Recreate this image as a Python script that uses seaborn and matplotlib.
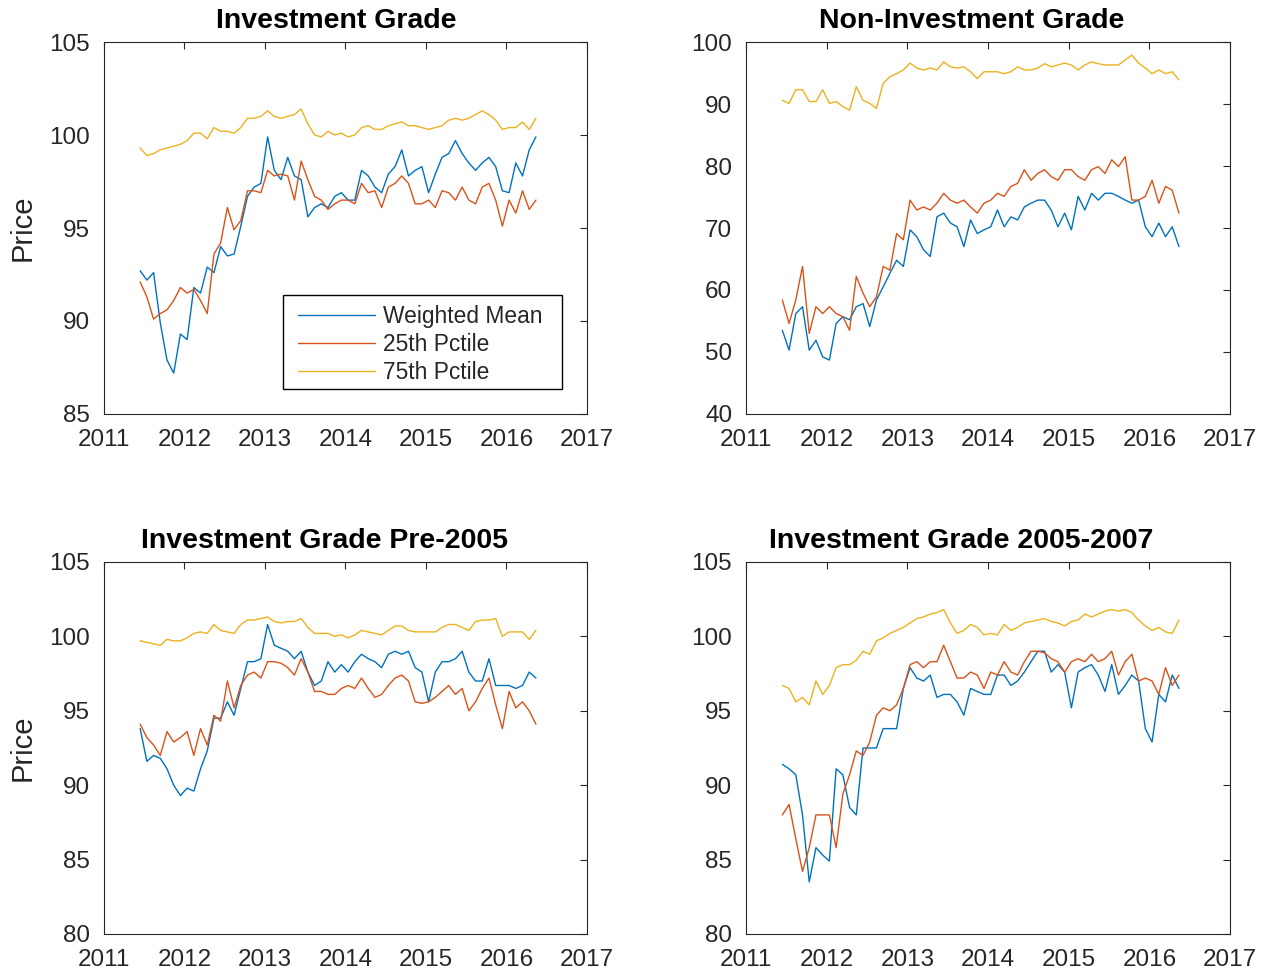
import numpy as np
import pandas as pd
import matplotlib
matplotlib.use("Agg")
import matplotlib.pyplot as plt
from matplotlib.patches import Rectangle
import seaborn as sns

n_obs = 60
t = 2011.45 + np.arange(n_obs) / 12.0

ig_mean = [92.7, 92.2, 92.6, 89.9, 87.9, 87.2, 89.3, 89.0, 91.8, 91.5,
           92.9, 92.6, 94.0, 93.5, 93.6, 95.1, 96.7, 97.2, 97.4, 99.9,
           98.1, 97.6, 98.8, 97.8, 97.6, 95.6, 96.1, 96.3, 96.1, 96.7,
           96.9, 96.5, 96.5, 98.1, 97.8, 97.2, 96.9, 97.9, 98.3, 99.2,
           97.8, 98.1, 98.3, 96.9, 97.9, 98.8, 99.0, 99.7, 99.0, 98.5,
           98.1, 98.5, 98.8, 98.3, 97.0, 96.9, 98.5, 97.8, 99.2, 99.9]
ig_p25 = [92.1, 91.3, 90.1, 90.4, 90.6, 91.1, 91.8, 91.5, 91.7, 91.1,
          90.4, 93.6, 94.2, 96.1, 94.9, 95.4, 97.0, 97.0, 96.9, 98.1,
          97.8, 97.9, 97.8, 96.5, 98.6, 97.6, 96.7, 96.5, 96.0, 96.3,
          96.5, 96.5, 96.3, 97.4, 96.9, 97.0, 96.1, 97.2, 97.4, 97.8,
          97.4, 96.3, 96.3, 96.5, 96.1, 97.0, 96.9, 96.5, 97.2, 96.5,
          96.3, 97.2, 97.4, 96.5, 95.1, 96.5, 95.8, 97.0, 96.0, 96.5]
ig_p75 = [99.3, 98.9, 99.0, 99.2, 99.3, 99.4, 99.5, 99.7, 100.1, 100.1,
          99.8, 100.4, 100.2, 100.2, 100.1, 100.4, 100.9, 100.9, 101.0, 101.3,
          101.0, 100.9, 101.0, 101.1, 101.4, 100.6, 100.0, 99.9, 100.2, 100.0,
          100.1, 99.9, 100.0, 100.4, 100.5, 100.3, 100.3, 100.5, 100.6, 100.7,
          100.5, 100.5, 100.4, 100.3, 100.4, 100.5, 100.8, 100.9, 100.8, 100.9,
          101.1, 101.3, 101.1, 100.8, 100.3, 100.4, 100.4, 100.7, 100.3, 100.9]

hy_mean = [53.5, 50.3, 56.2, 57.3, 50.3, 51.9, 49.2, 48.7, 54.6, 55.7,
           55.2, 57.3, 57.8, 54.1, 58.4, 60.5, 62.7, 64.8, 63.8, 69.7,
           68.6, 66.5, 65.4, 71.8, 72.4, 70.8, 70.2, 67.0, 71.3, 69.1,
           69.7, 70.2, 72.9, 70.2, 71.8, 71.3, 73.4, 74.0, 74.5, 74.5,
           72.9, 70.2, 72.4, 69.7, 75.1, 72.9, 75.6, 74.5, 75.6, 75.6,
           75.1, 74.5, 74.0, 74.5, 70.2, 68.6, 70.8, 68.6, 70.2, 67.0]
hy_p25 = [58.4, 54.6, 58.4, 63.8, 53.0, 57.3, 56.2, 57.3, 56.2, 55.7,
          53.5, 62.2, 59.5, 57.3, 58.9, 63.8, 63.2, 69.1, 68.1, 74.5,
          72.9, 73.4, 72.9, 74.0, 75.6, 74.5, 74.0, 74.5, 73.4, 72.4,
          74.0, 74.5, 75.6, 75.1, 76.7, 77.2, 79.4, 77.7, 78.8, 79.4,
          78.3, 77.7, 79.4, 79.4, 78.3, 77.7, 79.4, 79.9, 78.8, 81.0,
          79.9, 81.5, 74.5, 74.5, 75.1, 77.7, 74.0, 76.7, 76.1, 72.4]
hy_p75 = [90.6, 90.1, 92.3, 92.3, 90.4, 90.4, 92.3, 90.1, 90.4, 89.6,
          89.0, 92.8, 90.6, 90.1, 89.3, 93.3, 94.4, 94.9, 95.5, 96.6,
          95.8, 95.5, 95.8, 95.5, 96.8, 96.0, 95.8, 96.0, 95.2, 94.1,
          95.2, 95.2, 95.2, 94.9, 95.2, 96.0, 95.5, 95.5, 95.8, 96.5,
          96.0, 96.3, 96.6, 96.3, 95.5, 96.3, 96.8, 96.5, 96.3, 96.3,
          96.3, 97.1, 97.9, 96.6, 95.8, 94.9, 95.5, 94.9, 95.2, 93.9]

pre_mean = [93.8, 91.6, 92.0, 91.8, 91.1, 90.0, 89.3, 89.8, 89.6, 91.1,
            92.3, 94.5, 94.5, 95.6, 94.7, 96.5, 98.3, 98.3, 98.5, 100.8,
            99.4, 99.2, 99.0, 98.5, 99.0, 97.6, 96.7, 97.0, 98.3, 97.6,
            98.1, 97.6, 98.3, 98.8, 98.5, 98.3, 97.9, 98.8, 99.0, 98.8,
            99.0, 97.9, 97.6, 95.6, 97.6, 98.3, 98.3, 98.5, 99.0, 97.6,
            97.0, 97.0, 98.5, 96.7, 96.7, 96.7, 96.5, 96.7, 97.6, 97.2]
pre_p25 = [94.1, 93.2, 92.7, 92.0, 93.6, 92.9, 93.2, 93.6, 92.0, 93.8,
           92.7, 94.7, 94.3, 97.0, 95.2, 96.7, 97.4, 97.6, 97.2, 98.3,
           98.3, 98.2, 97.9, 97.4, 98.5, 97.6, 96.3, 96.3, 96.1, 96.1,
           96.5, 96.7, 96.5, 97.2, 96.5, 95.9, 96.1, 96.7, 97.2, 97.4,
           97.0, 95.6, 95.5, 95.6, 95.9, 96.3, 96.7, 96.1, 96.5, 95.0,
           95.6, 96.5, 97.2, 95.4, 93.8, 96.3, 95.2, 95.6, 95.0, 94.1]
pre_p75 = [99.7, 99.6, 99.5, 99.4, 99.8, 99.7, 99.7, 99.9, 100.2, 100.3,
           100.2, 100.8, 100.4, 100.3, 100.2, 100.8, 101.1, 101.1, 101.2, 101.3,
           101.0, 100.9, 101.0, 101.0, 101.2, 100.6, 100.2, 100.2, 100.2, 100.0,
           100.1, 99.9, 100.1, 100.4, 100.3, 100.2, 100.1, 100.4, 100.7, 100.7,
           100.4, 100.3, 100.3, 100.3, 100.3, 100.6, 100.8, 100.8, 100.6, 100.4,
           101.0, 101.1, 101.1, 101.2, 100.0, 100.3, 100.3, 100.3, 99.8, 100.4]

mid_mean = [91.4, 91.1, 90.7, 88.0, 83.5, 85.8, 85.3, 84.9, 91.1, 90.7,
            88.5, 88.0, 92.5, 92.5, 92.5, 93.8, 93.8, 93.8, 96.5, 97.9,
            97.2, 97.0, 97.4, 95.9, 96.1, 96.1, 95.6, 94.7, 96.5, 96.3,
            96.1, 96.1, 97.4, 97.4, 96.7, 97.0, 97.6, 98.3, 99.0, 99.0,
            97.6, 98.1, 97.6, 95.2, 97.6, 97.9, 98.1, 97.4, 96.3, 98.1,
            96.1, 96.7, 97.4, 97.0, 93.8, 92.9, 96.1, 95.6, 97.4, 96.5]
mid_p25 = [88.0, 88.7, 86.4, 84.2, 85.8, 88.0, 88.0, 88.0, 85.8, 89.4,
           90.7, 92.3, 92.0, 92.9, 94.7, 95.2, 95.0, 95.4, 96.5, 98.1,
           98.3, 97.9, 98.3, 98.3, 99.4, 98.3, 97.2, 97.2, 97.6, 97.4,
           96.5, 97.6, 97.4, 98.3, 97.6, 97.4, 98.3, 99.0, 99.0, 98.9,
           98.5, 98.3, 97.6, 98.3, 98.5, 98.3, 98.8, 98.3, 98.5, 99.0,
           97.4, 98.3, 98.8, 97.0, 97.2, 97.0, 96.1, 97.9, 96.7, 97.4]
mid_p75 = [96.7, 96.5, 95.6, 95.9, 95.4, 97.0, 96.1, 96.7, 97.9, 98.1,
           98.1, 98.4, 99.0, 98.8, 99.7, 99.9, 100.2, 100.4, 100.6, 100.9,
           101.2, 101.3, 101.5, 101.6, 101.8, 100.9, 100.2, 100.4, 100.8, 100.6,
           100.1, 100.2, 100.1, 100.8, 100.4, 100.6, 100.9, 101.0, 101.1, 101.2,
           101.0, 100.9, 100.7, 101.0, 101.1, 101.5, 101.3, 101.5, 101.7, 101.8,
           101.7, 101.8, 101.6, 101.1, 100.7, 100.4, 100.6, 100.3, 100.2, 101.1]

series_names = ["Weighted Mean", "25th Pctile", "75th Pctile"]
colors = ["#0072BD", "#D95319", "#EDB120"]

panels = [
    ("Investment Grade", [ig_mean, ig_p25, ig_p75], (85, 105), np.arange(85, 106, 5)),
    ("Non-Investment Grade", [hy_mean, hy_p25, hy_p75], (40, 100), np.arange(40, 101, 10)),
    ("Investment Grade Pre-2005", [pre_mean, pre_p25, pre_p75], (80, 105), np.arange(80, 106, 5)),
    ("Investment Grade 2005-2007", [mid_mean, mid_p25, mid_p75], (80, 105), np.arange(80, 106, 5)),
]
title_x = [0.480, 0.467, 0.456, 0.444]

sns.set_style("white")
plt.rcParams["font.family"] = ["Liberation Sans", "DejaVu Sans"]

fig = plt.figure(figsize=(12.63, 9.75), dpi=100)
positions = [
    [0.0823, 0.5754, 0.3824, 0.3815],
    [0.5907, 0.5754, 0.3832, 0.3815],
    [0.0823, 0.0421, 0.3824, 0.3815],
    [0.5907, 0.0421, 0.3832, 0.3815],
]

for i, (title, vals, ylim, yticks) in enumerate(panels):
    ax = fig.add_axes(positions[i])
    df = pd.DataFrame({
        "t": np.tile(t, 3),
        "price": np.concatenate(vals),
        "series": np.repeat(series_names, n_obs),
    })
    sns.lineplot(data=df, x="t", y="price", hue="series", hue_order=series_names,
                 palette=colors, linewidth=1.0, legend=False, ax=ax)
    ax.set_xlim(2011, 2017)
    ax.set_ylim(*ylim)
    ax.set_xticks(range(2011, 2018))
    ax.set_xticklabels([str(y) for y in range(2011, 2018)])
    ax.set_yticks(yticks)
    ax.set_xlabel("")
    if i % 2 == 0:
        ax.set_ylabel("Price", fontsize=21, color="#262626", labelpad=9)
    else:
        ax.set_ylabel("")
    ax.set_title(title, fontsize=20.5, fontweight="bold", pad=10, color="black",
                 x=title_x[i])
    ax.tick_params(direction="in", top=True, right=True, length=5, width=0.8,
                   labelsize=17.5, colors="#262626")
    ax.tick_params(axis="x", pad=10.5)
    ax.tick_params(axis="y", pad=10)
    for s in ax.spines.values():
        s.set_color("#262626")
        s.set_linewidth(0.8)
    if i == 0:
        leg = ax.legend(ax.lines[:3], series_names, loc="lower right",
                        bbox_to_anchor=(0.909, 0.0806), borderaxespad=0,
                        fontsize=16.4, frameon=False,
                        handlelength=3.4, handletextpad=0.35,
                        labelspacing=0.23, borderpad=0)
        # MATLAB-style legend box: wider side padding than top/bottom
        ax.add_patch(Rectangle((0.3706, 0.0672), 0.948 - 0.3706, 0.320 - 0.0672,
                               transform=ax.transAxes, fill=True,
                               facecolor="white", edgecolor="black",
                               linewidth=1.0, zorder=4))
        leg.set_zorder(5)

fig.savefig("out.png", dpi=100)
